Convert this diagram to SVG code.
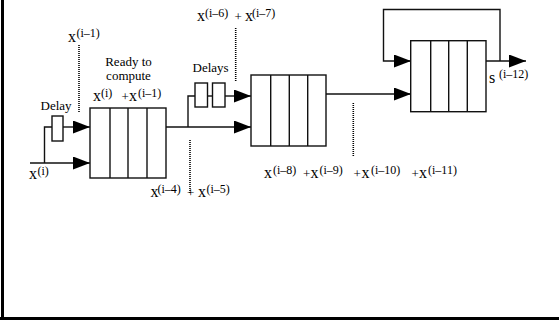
<svg xmlns="http://www.w3.org/2000/svg" width="559" height="320" viewBox="0 0 559 320">
<style>
.t{font-family:"Liberation Serif","Times New Roman",serif;font-size:13px;fill:#000}
.x{font-size:16px}
.s{font-size:12px}
.p{font-size:13px}
.box{fill:#fff;stroke:#111;stroke-width:1.4}
.div{stroke:#111;stroke-width:1.4}
.ln{fill:none;stroke:#111;stroke-width:1.4}
.dot{fill:none;stroke:#000;stroke-width:1.6;stroke-dasharray:1 1}
</style>
<defs>
<marker id="ah" markerUnits="userSpaceOnUse" markerWidth="18" markerHeight="14" refX="17" refY="6.5" orient="auto">
<path d="M0,0 L17,6.5 L0,13 z" fill="#000"/>
</marker>
</defs>
<rect width="559" height="320" fill="#fff"/>
<g id="frame">
<line x1="2.5" y1="0" x2="2.5" y2="320" stroke="#000" stroke-width="3"/>
<line x1="0" y1="318.5" x2="559" y2="318.5" stroke="#000" stroke-width="3"/>
</g>
<g id="connectors">
<path class="ln" d="M30,163 H90" marker-end="url(#ah)"/>
<path class="ln" d="M44.5,163 V127 H52"/>
<path class="ln" d="M63,127 H90" marker-end="url(#ah)"/>
<path class="ln" d="M166,127 H251" marker-end="url(#ah)"/>
<path class="ln" d="M188,127 V96 H195"/>
<path class="ln" d="M207.5,96 H212.5"/>
<path class="ln" d="M225,96 H251" marker-end="url(#ah)"/>
<path class="ln" d="M326,94 H411" marker-end="url(#ah)"/>
<path class="ln" d="M486,61 H526" marker-end="url(#ah)"/>
<path class="ln" d="M500,61 V9.5 H383.5 V61 H411" marker-end="url(#ah)"/>
<line class="dot" x1="79" y1="45" x2="79" y2="113"/>
<line class="dot" x1="235.7" y1="28" x2="235.7" y2="81"/>
<line class="dot" x1="190" y1="140" x2="190" y2="193"/>
<line class="dot" x1="353.3" y1="103" x2="353.3" y2="157"/>
</g>
<g id="delay1">
<rect class="box" x="52" y="116" width="11" height="25"/>
<text class="t" x="40.5" y="110">Delay</text>
</g>
<g id="delays">
<rect class="box" x="195" y="83" width="12.5" height="24"/>
<rect class="box" x="212.5" y="83" width="12.5" height="24"/>
<text class="t" x="192.5" y="72">Delays</text>
</g>
<g id="box1">
<rect class="box" x="90" y="108" width="76" height="70"/>
<line class="div" x1="110" y1="108" x2="110" y2="178"/>
<line class="div" x1="128" y1="108" x2="128" y2="178"/>
<line class="div" x1="147" y1="108" x2="147" y2="178"/>
<text class="t" x="128.5" y="65.5" text-anchor="middle">Ready to</text>
<text class="t" x="128.5" y="79.5" text-anchor="middle">compute</text>
<text class="t"><tspan class="x" x="93" y="101">x</tspan><tspan class="s" x="101" y="96.5">(i)</tspan><tspan class="p" x="121.5" y="101">+</tspan><tspan class="x" x="129" y="101">x</tspan><tspan class="s" x="138" y="96.5">(i–1)</tspan></text>
</g>
<g id="box2">
<rect class="box" x="251" y="75" width="75" height="71"/>
<line class="div" x1="270.7" y1="75" x2="270.7" y2="146"/>
<line class="div" x1="289.3" y1="75" x2="289.3" y2="146"/>
<line class="div" x1="307.7" y1="75" x2="307.7" y2="146"/>
</g>
<g id="box3">
<rect class="box" x="410.7" y="40.7" width="75.3" height="71"/>
<line class="div" x1="430.7" y1="40.7" x2="430.7" y2="111.7"/>
<line class="div" x1="448.7" y1="40.7" x2="448.7" y2="111.7"/>
<line class="div" x1="467.3" y1="40.7" x2="467.3" y2="111.7"/>
<text class="t"><tspan class="x" x="489" y="83">s</tspan><tspan class="s" x="499" y="78">(i–12)</tspan></text>
</g>
<g id="labels">
<text class="t"><tspan class="x" x="68" y="42">x</tspan><tspan class="s" x="76.5" y="37">(i–1)</tspan></text>
<text class="t"><tspan class="x" x="29" y="179">x</tspan><tspan class="s" x="37.5" y="174.5">(i)</tspan></text>
<text class="t"><tspan class="x" x="197" y="21">x</tspan><tspan class="s" x="205" y="16.5">(i–6)</tspan><tspan class="p" x="234.5" y="21">+</tspan><tspan class="x" x="245" y="21">x</tspan><tspan class="s" x="252" y="16.5">(i–7)</tspan></text>
<text class="t"><tspan class="x" x="150.5" y="197">x</tspan><tspan class="s" x="157.5" y="192.5">(i–4)</tspan><tspan class="p" x="187" y="197">+</tspan><tspan class="x" x="198" y="197">x</tspan><tspan class="s" x="206.5" y="192.5">(i–5)</tspan></text>
<text class="t"><tspan class="x" x="264" y="178">x</tspan><tspan class="s" x="273" y="173.5">(i–8)</tspan><tspan class="p" x="303" y="178">+</tspan><tspan class="x" x="310.5" y="178">x</tspan><tspan class="s" x="319.5" y="173.5">(i–9)</tspan><tspan class="p" x="353.5" y="178">+</tspan><tspan class="x" x="361.5" y="178">x</tspan><tspan class="s" x="371" y="173.5">(i–10)</tspan><tspan class="p" x="411.5" y="178">+</tspan><tspan class="x" x="419" y="178">x</tspan><tspan class="s" x="428" y="173.5">(i–11)</tspan></text>
</g>
</svg>
